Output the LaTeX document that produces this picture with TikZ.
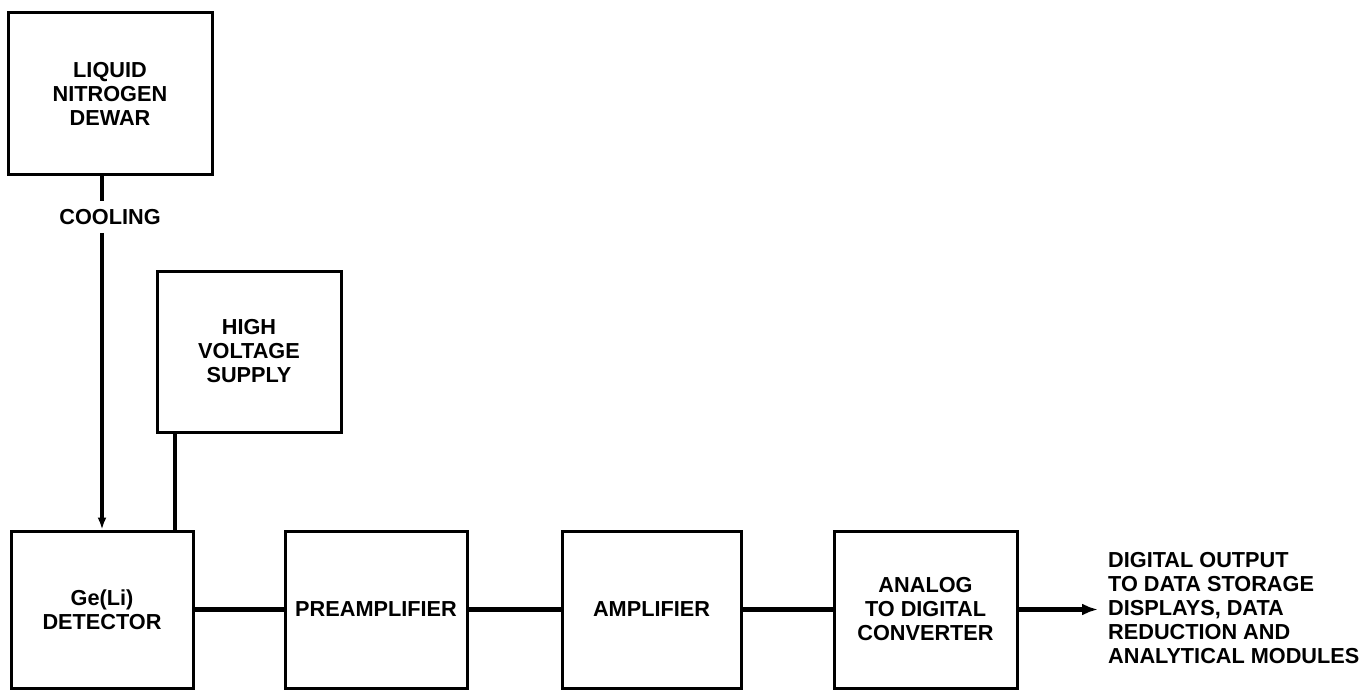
\documentclass[tikz,border=0pt]{standalone}
\usepackage{fontspec}
\setmainfont{Liberation Sans}
\usetikzlibrary{arrows.meta}
\begin{document}
\begin{tikzpicture}[x=1pt,y=-1pt,
  lbl/.style={font=\bfseries\fontsize{21.7}{24}\selectfont},
  blk/.style={lbl,draw,line width=3pt,align=center,inner sep=0pt},
  vconn/.style={line width=4pt},
  hconn/.style={line width=5.5pt}]
\useasboundingbox (0,0) rectangle (1370,690);
\node[blk,minimum width=204pt,minimum height=161pt] (dewar) at (110,93.5) {LIQUID\\NITROGEN\\DEWAR};
\node[blk,minimum width=184pt,minimum height=161pt] (hv) at (249,351.5) {HIGH\\VOLTAGE\\SUPPLY};
\node[blk,minimum width=182pt,minimum height=157pt] (det) at (102,609.5) {Ge(Li)\\DETECTOR};
\node[blk,minimum width=182pt,minimum height=157pt] (pre) at (376,609.5) {PREAMPLIFIER};
\node[blk,minimum width=179pt,minimum height=157pt] (amp) at (651.5,609.5) {AMPLIFIER};
\node[blk,minimum width=183pt,minimum height=157pt] (adc) at (925.5,609.5) {ANALOG\\TO DIGITAL\\CONVERTER};
\node[lbl,text height=15.5pt,text depth=0pt,inner xsep=0pt,inner ysep=8pt] (cool) at (110,217) {COOLING};
\node[lbl,align=left,anchor=west,inner sep=0pt] (out) at (1108,608) {DIGITAL OUTPUT\\TO DATA STORAGE\\DISPLAYS, DATA\\REDUCTION AND\\ANALYTICAL MODULES};
% cooling
\draw[vconn] (det.north |- dewar.south) -- (det.north |- cool.north);
\draw[vconn,-{Latex[length=12pt,width=9pt]}] (det.north |- cool.south) -- (det.north);
% high voltage
\draw[vconn] ([xshift=-20pt]det.north east |- hv.south) -- ([xshift=-20pt]det.north east);
% chain
\draw[hconn] (det.east) -- (pre.west);
\draw[hconn] (pre.east) -- (amp.west);
\draw[hconn] (amp.east) -- (adc.west);
\draw[hconn,-{Latex[length=16pt,width=12pt]},shorten >=10pt] (adc.east) -- (adc.east -| out.west);
\end{tikzpicture}
\end{document}
